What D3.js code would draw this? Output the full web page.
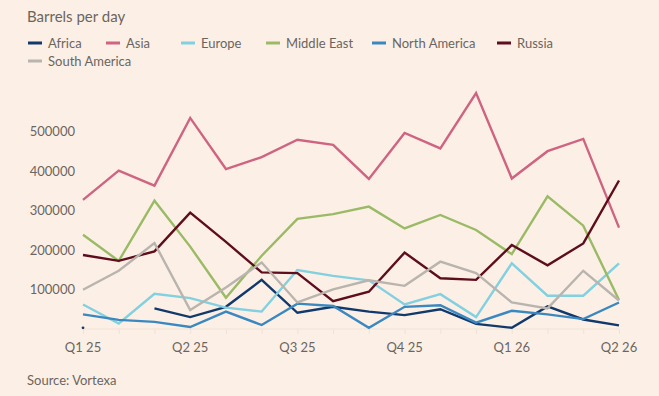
<!DOCTYPE html>
<html>
<head>
<meta charset="utf-8">
<script src="https://cdn.jsdelivr.net/npm/d3@7"></script>
<style>
  body { margin: 0; background: #fcf0e6; }
  svg { display: block; font-family: Lato, "Open Sans", sans-serif; }
</style>
</head>
<body>
<div id="chart"></div>
<script>
// monthly values, Jan 2025 .. Apr 2026
var months = ["2025-01", "2025-02", "2025-03", "2025-04", "2025-05", "2025-06", "2025-07", "2025-08",
              "2025-09", "2025-10", "2025-11", "2025-12", "2026-01", "2026-02", "2026-03", "2026-04"];
var tickMonths = ["2025-01", "2025-04", "2025-07", "2025-10", "2026-01", "2026-04"];
var tickLabels = ["Q1 25", "Q2 25", "Q3 25", "Q4 25", "Q1 26", "Q2 26"];
var yTicks = [100000, 200000, 300000, 400000, 500000];

var regions = ["Africa", "Asia", "Europe", "Middle East", "North America", "Russia", "South America"];
var colors = ["#12396b", "#cf6382", "#82d0e0", "#9aba65", "#3b88c0", "#5e0d1d", "#b9b4ae"];

var africa       = [3000, null, 52000, 30000, 56000, 124000, 41000, 56000, 44000, 35000, 50000, 13000, 3000, 57000, 24000, 9000];
var asia         = [326000, 400000, 362000, 533000, 404000, 434000, 478000, 465000, 379000, 495000, 456000, 596000, 380000, 449000, 480000, 256000];
var europe       = [62000, 14000, 89000, 78000, 54000, 44000, 149000, 134000, 123000, 62000, 88000, 30000, 166000, 84000, 84000, 166000];
var middleEast   = [238000, 172000, 324000, 208000, 79000, 185000, 278000, 290000, 309000, 254000, 288000, 250000, 189000, 335000, 261000, 73000];
var northAmerica = [37000, 23000, 18000, 5000, 44000, 10000, 64000, 58000, 3000, 56000, 60000, 16000, 46000, 37000, 25000, 67000];
var russia       = [187000, 172000, 196000, 294000, 220000, 143000, 141000, 70000, 94000, 193000, 128000, 124000, 212000, 161000, 216000, 375000];
var southAmerica = [99000, 147000, 217000, 48000, 105000, 168000, 67000, 100000, 123000, 109000, 170000, 141000, 67000, 52000, 147000, 72000];

var seriesValues = [africa, asia, europe, middleEast, northAmerica, russia, southAmerica];

var width = 659, height = 396;
var textColor = "#6b6560";

var svg = d3.select("#chart").append("svg")
    .attr("width", width)
    .attr("height", height);

svg.append("rect")
    .attr("width", width)
    .attr("height", height)
    .attr("fill", "#fcf0e6");

var x = d3.scalePoint()
    .domain(months)
    .range([83, 619]);

var y = d3.scaleLinear()
    .domain([0, 500000])
    .range([329, 131]);

// title
svg.append("text")
    .attr("x", 27)
    .attr("y", 22)
    .attr("fill", textColor)
    .style("font-size", "15px")
    .text("Barrels per day");

// legend
var legendPos = [[28, 43], [106, 43], [181, 43], [266, 43], [372, 43], [497, 43], [28, 61]];
var legend = svg.append("g");
regions.forEach(function(name, i) {
    var g = legend.append("g")
        .attr("transform", "translate(" + legendPos[i][0] + "," + legendPos[i][1] + ")");
    g.append("line")
        .attr("x1", 0).attr("x2", 14)
        .attr("y1", 0).attr("y2", 0)
        .attr("stroke", colors[i])
        .attr("stroke-width", 3);
    g.append("text")
        .attr("x", 20)
        .attr("y", 4.5)
        .attr("fill", textColor)
        .style("font-size", "13px")
        .text(name);
});

// y axis labels
svg.append("g")
    .selectAll("text")
    .data(yTicks)
    .enter().append("text")
    .attr("x", 75)
    .attr("y", function(d) { return y(d) + 5; })
    .attr("text-anchor", "end")
    .attr("fill", textColor)
    .style("font-size", "13px")
    .text(function(d) { return d; });

// faint baseline with monthly ticks
var xAxis = d3.axisBottom(x)
    .tickSize(5)
    .tickFormat("");
var axisG = svg.append("g")
    .attr("transform", "translate(0," + y(0) + ")")
    .call(xAxis);
axisG.select(".domain").attr("stroke", "#efe2d6").attr("d", "M" + x(months[0]) + ",0H" + x(months[months.length - 1]));
axisG.selectAll(".tick line").attr("stroke", "#efe2d6");

svg.append("g")
    .selectAll("text")
    .data(tickMonths)
    .enter().append("text")
    .attr("x", function(d) { return x(d); })
    .attr("y", y(0) + 23)
    .attr("text-anchor", "middle")
    .attr("fill", textColor)
    .style("font-size", "13px")
    .text(function(d, i) { return tickLabels[i]; });

// lines
var line = d3.line()
    .defined(function(d) { return d != null; })
    .x(function(d, i) { return x(months[i]); })
    .y(function(d) { return y(d); });

seriesValues.forEach(function(vals, s) {
    svg.append("path")
        .datum(vals)
        .attr("fill", "none")
        .attr("stroke", colors[s])
        .attr("stroke-width", 2.4)
        .attr("stroke-linejoin", "miter")
        .attr("d", line);

    // isolated points have no segment, draw them as dots
    vals.forEach(function(v, i) {
        if (v == null) return;
        var prev = i > 0 ? vals[i - 1] : null;
        var next = i < vals.length - 1 ? vals[i + 1] : null;
        if (prev == null && next == null) {
            svg.append("circle")
                .attr("cx", x(months[i]))
                .attr("cy", y(v))
                .attr("r", 1.4)
                .attr("fill", colors[s]);
        }
    });
});

// source
svg.append("text")
    .attr("x", 27)
    .attr("y", 385)
    .attr("fill", textColor)
    .style("font-size", "13px")
    .text("Source: Vortexa");
</script>
</body>
</html>
